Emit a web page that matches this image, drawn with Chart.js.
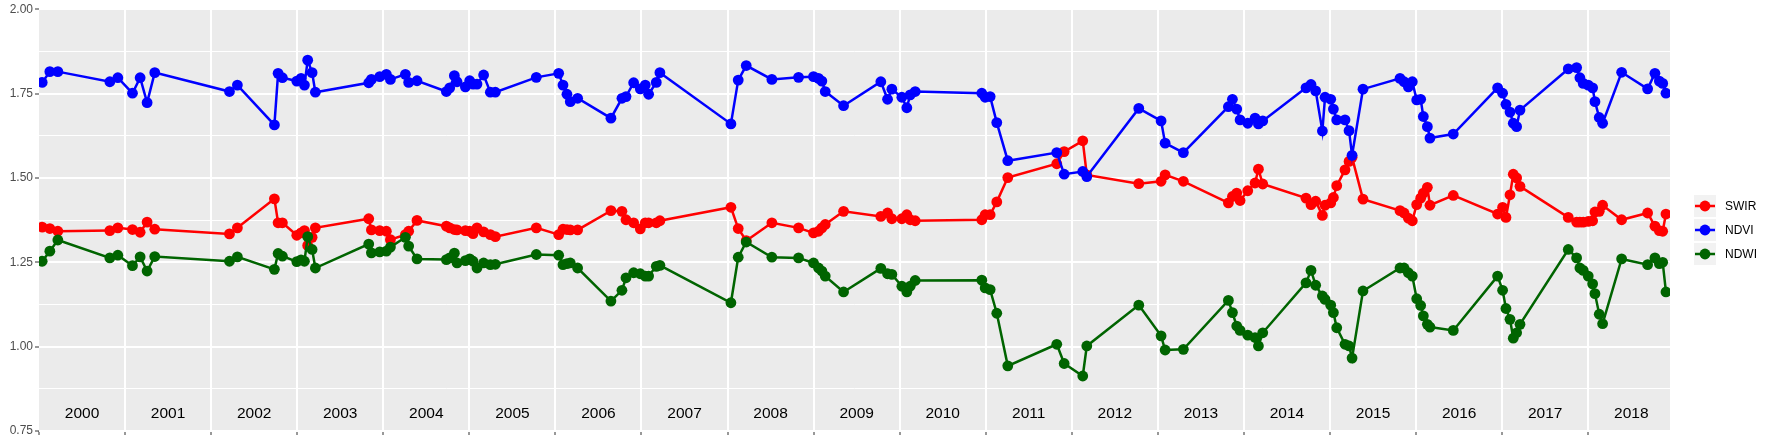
<!DOCTYPE html>
<html>
<head>
<meta charset="utf-8">
<script src="https://cdn.jsdelivr.net/npm/chart.js@4/dist/chart.umd.min.js"></script>
<style>
  html, body { margin: 0; padding: 0; background: #fff; }
  #wrap { width: 1773px; height: 442px; }
</style>
</head>
<body>
<div id="wrap"><canvas id="chart" width="1773" height="442"></canvas></div>
<script>
// acquisition dates as decimal years
const dates = [
  2000.037, 2000.126, 2000.219, 2000.823, 2000.916, 2001.086, 2001.175, 2001.256, 2001.345, 2002.213,
  2002.305, 2002.735, 2002.778, 2002.828, 2002.995, 2003.045, 2003.084, 2003.122, 2003.173, 2003.211,
  2003.831, 2003.862, 2003.959, 2004.036, 2004.083, 2004.257, 2004.295, 2004.392, 2004.733, 2004.772,
  2004.826, 2004.857, 2004.954, 2005.004, 2005.043, 2005.089, 2005.166, 2005.244, 2005.302, 2005.778,
  2006.038, 2006.088, 2006.134, 2006.173, 2006.258, 2006.645,
  2006.773, 2006.820, 2006.909, 2006.986, 2007.044, 2007.083, 2007.172, 2007.214, 2008.039, 2008.124,
  2008.217, 2008.515, 2008.825, 2008.999, 2009.057, 2009.096, 2009.135, 2009.348, 2009.781, 2009.859,
  2009.909, 2010.025, 2010.083, 2010.122, 2010.180,
  2010.954, 2010.993, 2011.051, 2011.128, 2011.256, 2011.825, 2011.911, 2012.127, 2012.174, 2012.778,
  2013.037, 2013.084, 2013.296,
  2013.819, 2013.866, 2013.916, 2013.955, 2014.044, 2014.129, 2014.168, 2014.218, 2014.721, 2014.779,
  2014.833, 2014.911, 2014.942, 2015.008, 2015.039, 2015.078, 2015.174, 2015.221, 2015.256, 2015.383,
  2015.813, 2015.860, 2015.910, 2015.956, 2016.007, 2016.053, 2016.084, 2016.131, 2016.161, 2016.432,
  2016.947, 2017.005, 2017.044, 2017.091, 2017.129, 2017.168, 2017.207,
  2017.768, 2017.865, 2017.903, 2017.942, 2018.000, 2018.051, 2018.078, 2018.128, 2018.167, 2018.388,
  2018.690, 2018.775, 2018.826, 2018.865, 2018.903
];

const swir = [
  1.354, 1.350, 1.342, 1.344, 1.352, 1.347, 1.339, 1.369, 1.348, 1.334,
  1.352, 1.438, 1.367, 1.367, 1.330, 1.337, 1.344, 1.300, 1.324, 1.352,
  1.379, 1.346, 1.344, 1.342, 1.317, 1.332, 1.342, 1.374, 1.357, 1.352,
  1.347, 1.346, 1.344, 1.342, 1.335, 1.352, 1.340, 1.332, 1.326, 1.352,
  1.332, 1.348, 1.347, 1.346, 1.346, 1.403,
  1.401, 1.376, 1.367, 1.349, 1.367, 1.367, 1.367, 1.373, 1.413, 1.350,
  1.314, 1.367, 1.352, 1.337, 1.342, 1.352, 1.362, 1.401, 1.386, 1.396,
  1.379, 1.379, 1.391, 1.376, 1.373,
  1.376, 1.391, 1.391, 1.429, 1.501, 1.542, 1.578, 1.610, 1.509, 1.483,
  1.490, 1.509, 1.490,
  1.426, 1.445, 1.455, 1.433, 1.462, 1.485, 1.526, 1.482, 1.440, 1.421,
  1.431, 1.389, 1.419, 1.426, 1.442, 1.477, 1.524, 1.549, 1.561, 1.437,
  1.403, 1.396, 1.381, 1.373, 1.421, 1.440, 1.455, 1.472, 1.419, 1.448,
  1.393, 1.413, 1.383, 1.450, 1.511, 1.500, 1.475,
  1.383, 1.369, 1.369, 1.369, 1.371, 1.373, 1.399, 1.401, 1.419, 1.376,
  1.396, 1.357, 1.344, 1.342, 1.393
];

const ndvi = [
  1.783, 1.815, 1.815, 1.785, 1.797, 1.751, 1.797, 1.723, 1.812, 1.756,
  1.775, 1.657, 1.810, 1.797, 1.787, 1.795, 1.775, 1.849, 1.812, 1.754,
  1.782, 1.792, 1.800, 1.807, 1.792, 1.807, 1.783, 1.788, 1.756, 1.767,
  1.803, 1.785, 1.770, 1.788, 1.778, 1.778, 1.805, 1.754, 1.754, 1.798,
  1.810, 1.775, 1.748, 1.726, 1.736, 1.677,
  1.736, 1.741, 1.782, 1.764, 1.775, 1.748, 1.783, 1.812, 1.660, 1.790,
  1.833, 1.792, 1.798, 1.800, 1.795, 1.787, 1.756, 1.714, 1.785, 1.733,
  1.763, 1.739, 1.708, 1.746, 1.756,
  1.751, 1.739, 1.741, 1.664, 1.551, 1.575, 1.511, 1.519, 1.504, 1.706,
  1.669, 1.603, 1.575,
  1.711, 1.733, 1.704, 1.672, 1.662, 1.677, 1.660, 1.669, 1.767, 1.777,
  1.758, 1.639, 1.739, 1.733, 1.704, 1.672, 1.672, 1.640, 1.567, 1.763,
  1.795, 1.785, 1.770, 1.785, 1.731, 1.733, 1.682, 1.652, 1.618, 1.630,
  1.767, 1.751, 1.718, 1.695, 1.662, 1.652, 1.701,
  1.823, 1.827, 1.797, 1.780, 1.775, 1.767, 1.726, 1.679, 1.662, 1.813,
  1.764, 1.810, 1.787, 1.780, 1.751
];

const ndwi = [
  1.253, 1.283, 1.316, 1.263, 1.271, 1.240, 1.266, 1.224, 1.267, 1.253,
  1.266, 1.229, 1.276, 1.268, 1.252, 1.257, 1.253, 1.326, 1.288, 1.233,
  1.304, 1.278, 1.281, 1.283, 1.295, 1.324, 1.298, 1.260, 1.258, 1.263,
  1.277, 1.248, 1.255, 1.260, 1.253, 1.233, 1.248, 1.243, 1.244, 1.273,
  1.271, 1.243, 1.246, 1.248, 1.233, 1.135,
  1.167, 1.204, 1.219, 1.216, 1.209, 1.209, 1.238, 1.241, 1.130, 1.265,
  1.310, 1.265, 1.263, 1.248, 1.233, 1.224, 1.209, 1.162, 1.232, 1.216,
  1.214, 1.179, 1.162, 1.179, 1.196,
  1.197, 1.174, 1.169, 1.099, 0.943, 1.007, 0.950, 0.913, 1.002, 1.123,
  1.032, 0.990, 0.992,
  1.137, 1.101, 1.061, 1.048, 1.034, 1.027, 1.002, 1.041, 1.189, 1.226,
  1.182, 1.150, 1.140, 1.123, 1.101, 1.056, 1.007, 1.002, 0.966, 1.165,
  1.233, 1.233, 1.219, 1.209, 1.142, 1.122, 1.091, 1.066, 1.058, 1.048,
  1.209, 1.167, 1.113, 1.081, 1.025, 1.041, 1.066,
  1.288, 1.263, 1.233, 1.226, 1.209, 1.186, 1.157, 1.096, 1.068, 1.260,
  1.243, 1.263, 1.246, 1.250, 1.162
];

const yearLabels = ['2000', '2001', '2002', '2003', '2004', '2005', '2006', '2007', '2008', '2009',
  '2010', '2011', '2012', '2013', '2014', '2015', '2016', '2017', '2018'];
const seriesNames = ['SWIR', 'NDVI', 'NDWI'];
const seriesColors = ['#FF0000', '#0000FF', '#006400'];
const seriesValues = [swir, ndvi, ndwi];

const FONT = '"Liberation Sans", Arial, Helvetica, sans-serif';

// grey panel like ggplot
const panelBg = {
  id: 'panelBg',
  beforeDraw(chart) {
    const { ctx, chartArea: a } = chart;
    ctx.save();
    ctx.fillStyle = '#EBEBEB';
    ctx.fillRect(a.left, a.top, a.right - a.left, a.bottom - a.top);
    ctx.restore();
  }
};

// year names written inside the panel, centred in each year
const yearText = {
  id: 'yearText',
  afterDatasetsDraw(chart) {
    const { ctx, scales: { x, y } } = chart;
    ctx.save();
    ctx.font = '15.5px ' + FONT;
    ctx.fillStyle = '#000';
    ctx.textAlign = 'center';
    ctx.textBaseline = 'middle';
    yearLabels.forEach(lbl => {
      ctx.fillText(lbl, x.getPixelForValue(Number(lbl) + 0.5), y.getPixelForValue(0.8));
    });
    ctx.restore();
  }
};

// legend with grey key boxes on the right
const keyLegend = {
  id: 'keyLegend',
  afterDraw(chart) {
    const ctx = chart.ctx;
    const left = 1694, top = 195, size = 22, pitch = 24;
    ctx.save();
    seriesNames.forEach((name, i) => {
      const y0 = top + i * pitch;
      ctx.fillStyle = '#F2F2F2';
      ctx.fillRect(left, y0, size, size);
      ctx.strokeStyle = seriesColors[i];
      ctx.lineWidth = 2.5;
      ctx.beginPath();
      ctx.moveTo(left + 1, y0 + size / 2);
      ctx.lineTo(left + size - 1, y0 + size / 2);
      ctx.stroke();
      ctx.fillStyle = seriesColors[i];
      ctx.beginPath();
      ctx.arc(left + size / 2, y0 + size / 2, 5.4, 0, Math.PI * 2);
      ctx.fill();
      ctx.fillStyle = '#000';
      ctx.font = '12px ' + FONT;
      ctx.textAlign = 'left';
      ctx.textBaseline = 'middle';
      ctx.fillText(name, left + size + 9, y0 + size / 2 + 0.5);
    });
    ctx.restore();
  }
};

const isMajor = v => Math.abs(Math.round(v * 8)) % 2 === 0;

new Chart(document.getElementById('chart'), {
  type: 'line',
  data: {
    datasets: seriesNames.map((name, i) => ({
      label: name,
      data: dates.map((d, k) => ({ x: d, y: seriesValues[i][k] })),
      borderColor: seriesColors[i],
      backgroundColor: seriesColors[i],
      borderWidth: 2.5,
      pointRadius: 5.4,
      pointBorderWidth: 0,
      pointHoverRadius: 5.4,
      tension: 0,
      fill: false,
      order: 3 - i
    }))
  },
  options: {
    responsive: false,
    animation: false,
    devicePixelRatio: 1,
    layout: { padding: { top: 7, right: 103, left: 0, bottom: 0 } },
    plugins: { legend: { display: false }, tooltip: { enabled: false } },
    scales: {
      x: {
        type: 'linear',
        min: 2000,
        max: 2018.95,
        border: { display: false },
        ticks: { display: false, stepSize: 1, includeBounds: false },
        grid: {
          color: c => (c.tick && c.tick.value === 2000 ? 'rgba(0,0,0,0)' : '#FFFFFF'),
          lineWidth: 2,
          drawTicks: true,
          tickLength: 4,
          tickWidth: 1,
          tickColor: '#333333'
        },
        afterFit: s => { s.height = 11; }
      },
      y: {
        min: 0.75,
        max: 2.0,
        border: { display: false },
        ticks: {
          stepSize: 0.125,
          autoSkip: false,
          padding: 2,
          color: '#4D4D4D',
          font: { family: FONT, size: 12 },
          callback: v => (isMajor(v) ? v.toFixed(2) : '')
        },
        grid: {
          color: '#FFFFFF',
          lineWidth: c => (c.tick && isMajor(c.tick.value) ? 2 : 1),
          drawTicks: true,
          tickLength: 4,
          tickWidth: 1,
          tickColor: c => (c.tick && isMajor(c.tick.value) ? '#333333' : 'rgba(0,0,0,0)')
        },
        afterFit: s => { s.width = 39; }
      }
    }
  },
  plugins: [panelBg, yearText, keyLegend]
});
</script>
</body>
</html>
